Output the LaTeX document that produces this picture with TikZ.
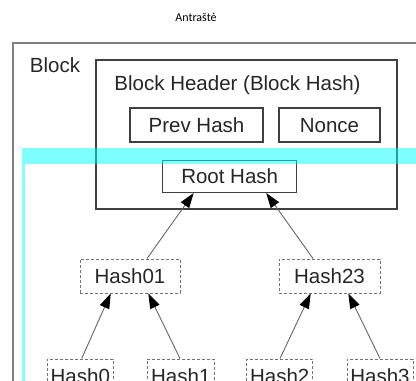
\documentclass[tikz,border=0pt]{standalone}
\usepackage{fontspec}
\setmainfont{Liberation Sans}
\newfontfamily\titlefont{Carlito}
\usetikzlibrary{arrows.meta}
\definecolor{cy}{RGB}{0,255,255}
\begin{document}
\begin{tikzpicture}[x=1pt,y=-1pt,
  lbl/.style={font=\fontsize{20.5}{24}\selectfont, text=black!85, text height=14.7pt, text depth=0pt, inner sep=0pt},
  solidbox/.style={lbl, draw=black!75, line width=1.3pt},
  dashbox/.style={lbl, draw=black!55, line width=0.9pt, dash pattern=on 3pt off 2pt},
  arr/.style={draw=black!60, line width=0.9pt, -{Triangle[length=15pt,width=10pt,color=black]}},
]
\useasboundingbox (0,0) rectangle (416,381);
\clip (0,0) rectangle (416,381);

\node[font=\titlefont\fontsize{12}{14}\selectfont, inner sep=0pt] (title) at (196,17) {Antraštė};

% outer block
\node[draw=black!50, line width=2.3pt, minimum width=427pt, minimum height=377pt, inner sep=0pt] (blk) at (226.5,231.5) {};
\node[lbl] (blklbl) at (55,65.5) {Block};

% block header
\node[draw=black!75, line width=1.3pt, minimum width=301pt, minimum height=149pt, inner sep=0pt] (hdr) at (246.5,134.5) {};
\node[lbl] (hdrlbl) at (237.5,83) {Block Header (Block Hash)};

\node[solidbox, minimum width=133pt, minimum height=34pt] (prev) at (196.5,125) {Prev Hash};
\node[solidbox, minimum width=101pt, minimum height=34pt] (nonce) at (329.5,125) {Nonce};
\node[solidbox, minimum width=134pt, minimum height=32pt] (root) at (229.7,176.3) {Root Hash};

% merkle tree
\node[dashbox, minimum width=100pt, minimum height=34pt] (h01) at (130,276) {Hash01};
\node[dashbox, minimum width=101pt, minimum height=34pt] (h23) at (329.5,276) {Hash23};
\node[dashbox, minimum width=66pt, minimum height=34pt] (h0) at (80.3,376) {Hash0};
\node[dashbox, minimum width=67pt, minimum height=34pt] (h1) at (180.8,376) {Hash1};
\node[dashbox, minimum width=66pt, minimum height=34pt] (h2) at (279.7,376) {Hash2};
\node[dashbox, minimum width=66pt, minimum height=34pt] (h3) at (380,376) {Hash3};

\draw[arr] ([xshift=1.4pt]h0.north) -- ([xshift=-19.3pt]h01.south);
\draw[arr] ([xshift=-0.8pt]h1.north) -- ([xshift=18.3pt]h01.south);
\draw[arr] ([xshift=0.3pt]h2.north) -- ([xshift=-18.8pt]h23.south);
\draw[arr] (h3.north) -- ([xshift=18.8pt]h23.south);
\draw[arr] ([xshift=17pt]h01.north) -- ([xshift=-36pt]root.south);
\draw[arr] ([xshift=-16.5pt]h23.north) -- ([xshift=36.5pt]root.south);

% cyan overlay
\fill[cy, opacity=0.5] (22,147.5) rectangle (440,163.5);
\fill[cy, opacity=0.5] (22,163.5) rectangle (25,400);
\end{tikzpicture}
\end{document}
